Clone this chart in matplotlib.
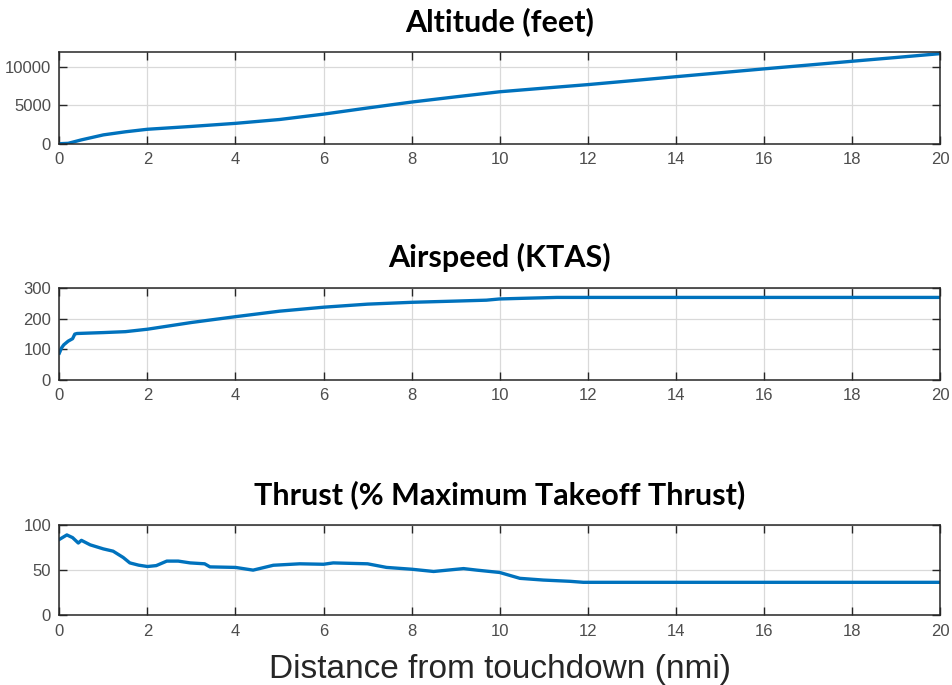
import matplotlib
matplotlib.use('Agg')
import matplotlib.pyplot as plt

# datos
dist_alt = [0, 0.2, 0.5, 1.0, 1.5, 2, 3, 4, 5, 6, 7, 8, 9, 10, 11, 12, 13, 14, 15, 16, 17, 18, 19, 20]
altitud = [0, 50, 500, 1150, 1550, 1880, 2250, 2650, 3150, 3850, 4650, 5420, 6100, 6760, 7230, 7690,
           8200, 8720, 9230, 9740, 10230, 10730, 11220, 11720]

dist_vel = [0, 0.05, 0.1, 0.2, 0.3, 0.35, 0.4, 1, 1.5, 2, 3, 4, 5, 6, 7, 8, 9, 9.7, 10, 10.5, 11.3, 12, 20]
velocidad = [88, 105, 115, 127, 135, 150, 152, 155, 158, 166, 188, 207, 225, 238, 248, 254, 258, 261,
             265, 267, 270, 270, 270]

dist_emp = [0, 0.17, 0.3, 0.43, 0.5, 0.7, 1.0, 1.22, 1.45, 1.6, 1.8, 2.0, 2.2, 2.44, 2.7, 2.97, 3.3,
            3.42, 4.0, 4.4, 4.86, 5.46, 6.0, 6.22, 7.0, 7.43, 8.0, 8.5, 9.18, 9.48, 10.0, 10.46,
            10.99, 11.6, 11.9, 20]
empuje = [84, 89, 86, 80, 83, 78, 73.5, 71, 64, 58, 55.5, 54, 55, 60, 60, 58, 57, 53.6, 53, 50, 55.4,
          57, 56.5, 58, 57, 53, 51, 48.5, 51.7, 50, 47.4, 40.9, 39, 37.6, 36.5, 36.5]

x_ticks = [0, 2, 4, 6, 8, 10, 12, 14, 16, 18, 20]

azul = '#0072BD'

fig = plt.figure(figsize=(9.53, 6.85), dpi=100)

paneles = [
    ([0.0623, 0.7902, 0.924, 0.1346], dist_alt, altitud, 'Altitude (feet)', (0, 12000), [0, 5000, 10000]),
    ([0.0623, 0.4453, 0.924, 0.1339], dist_vel, velocidad, 'Airspeed (KTAS)', (0, 300), [0, 100, 200, 300]),
    ([0.0623, 0.1018, 0.924, 0.1318], dist_emp, empuje, 'Thrust (% Maximum Takeoff Thrust)', (0, 100), [0, 50, 100]),
]

for pos, x, y, titulo, ylim, yt in paneles:
    ax = fig.add_axes(pos)
    ax.plot(x, y, color=azul, linewidth=2.4)
    ax.set_xlim(0, 20)
    ax.set_ylim(*ylim)
    ax.set_xticks(x_ticks)
    ax.set_yticks(yt)
    ax.grid(True, color='#d9d9d9', linewidth=0.9)
    ax.set_axisbelow(True)
    ax.tick_params(direction='in', top=True, right=True, length=6, width=1,
                   colors='#262626', labelcolor='#4d4d4d', labelsize=12, pad=6)
    for lbl in ax.get_xticklabels() + ax.get_yticklabels():
        lbl.set_family('Liberation Sans')
    for s in ax.spines.values():
        s.set_color('#262626')
        s.set_linewidth(1.1)
    ax.set_title(titulo, fontsize=22, fontweight='bold', family='Lato', pad=15)

ax.set_xlabel('Distance from touchdown (nmi)', fontsize=24, color='#262626',
              family='Liberation Sans', labelpad=11)

fig.savefig('out.png', dpi=100)
